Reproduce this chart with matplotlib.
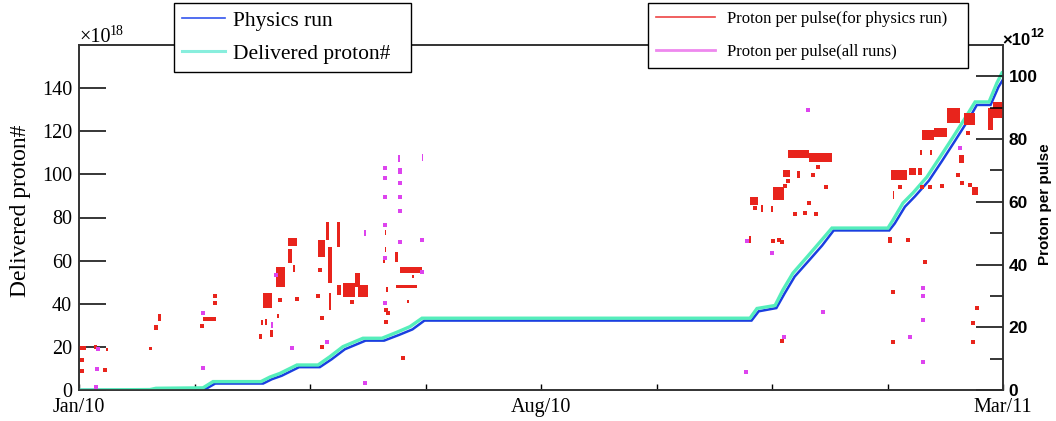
import matplotlib
matplotlib.use('Agg')
import matplotlib.pyplot as plt
from matplotlib.lines import Line2D
from datetime import date, timedelta
import numpy as np

# --- data (x = days since 2010-01-01) ---
START = date(2010, 1, 1)
SPAN_DAYS = 424

# delivered protons (x10^18)
deliv_day = [0, 32.6, 35.3, 56.9, 61.5, 83.5, 87.6, 92.2, 100, 109.7, 115.2, 121.1, 130.3,
             139, 145.9, 151.9, 157.4, 307.9, 311.1, 319.4, 323, 327.6, 334.1, 340, 345.5,
             371.2, 373.5, 378.1, 382.7, 389.1, 395.1, 401.1, 407.5, 411.2, 417.6, 421.2, 423.5]
deliv_val = [0, 0.2, 0.8, 1.0, 3.9, 3.9, 6.0, 7.7, 11.6, 11.6, 15.5, 20.1, 24.0,
             24.0, 26.8, 29.4, 33.3, 33.3, 37.8, 39.2, 46.4, 54.2, 61.7, 68.6, 75.1,
             75.1, 78.8, 86.7, 91.4, 98.8, 108, 117.3, 127.5, 133.6, 133.6, 142.4, 147]

# physics runs only (x10^18)
phys_day = [0, 32.6, 35.3, 58, 62.5, 84.5, 88.5, 93, 101, 110.5, 116, 122, 131.5,
            140, 147, 153, 158.5, 308.6, 311.9, 320, 323.8, 328.4, 335, 341, 346.3,
            371.8, 374.3, 379, 383.6, 390, 396, 402, 408.4, 412, 418.3, 421.9, 424]
phys_val = [0, 0, 0.3, 0.4, 3.0, 3.0, 5.0, 6.6, 10.6, 10.6, 14.3, 18.9, 22.9,
            22.9, 25.6, 28.1, 32.2, 32.2, 36.5, 38.0, 44.8, 52.6, 60.1, 67.0, 74.0,
            74.0, 77.2, 85.0, 89.8, 97.1, 106.2, 115.6, 125.8, 132.2, 132.2, 140.5, 144]

# proton per pulse, physics runs (x10^12): groups of runs (first day, last day, min, max)
red_d0 = [0, 6.9, 12.4, 32.1, 34.4, 36.3, 56.9, 82.8, 83.7, 85.4, 84.4, 87.8, 90.9, 90.6,
          95.9, 95.9, 98, 109.7, 113.3, 114.3, 114.7, 118.6, 118.2, 121.1, 126.6, 128,
          140.2, 140.2, 139.3, 140.9, 145.2, 147.3, 145.5, 150.7, 153,
          307.4, 307.9, 313, 317.5, 318.5, 323, 329.7, 325.3, 335,
          371.2, 373.3, 372.8, 380.9, 384.8, 387, 392.3, 386.1, 390.7, 398.1, 406.1,
          404, 410, 417.1, 419.4]
red_d1 = [3.2, 8.3, 13.3, 33.5, 36.3, 37.4, 62.9, 84.0, 84.5, 86.3, 88.6, 89.0, 92.0, 94.5,
          100, 97.7, 99.3, 112.9, 114.7, 116.1, 115.7, 119.8, 120, 126.6, 129, 132.6,
          140.9, 140.9, 140.4, 141.8, 146.4, 157.4, 155.1, 151.6, 153.7,
          308.4, 311.8, 314, 318.5, 323.3, 326.3, 330.9, 335, 345.5,
          373.1, 374, 380, 384.1, 386.8, 392.3, 398.3, 387, 391.6, 404.3, 411.2,
          405.9, 412.7, 419.4, 424]
red_lo = [12.8, 13.2, 12.3, 12.6, 19, 22, 21.9, 16.2, 20.6, 20.6, 26, 16.8, 22.8, 33,
          46, 40.5, 37.5, 42.5, 47.8, 34, 25.5, 45.7, 30.3, 29.8, 33, 29.8,
          49.4, 44.1, 40.5, 31.3, 40.9, 37.2, 32.4, 27.8, 35.8,
          47, 59, 56.8, 56.8, 60.6, 68, 67.5, 74, 72.8,
          46.8, 61, 67, 68.6, 68.6, 79.7, 80.8, 75, 75, 85, 84.5,
          72.3, 62.2, 82.9, 86.6]
red_hi = [14, 14.3, 13.5, 13.6, 20.6, 24.2, 23.4, 17.8, 22.3, 22.6, 30.8, 19.2, 24.2, 39.3,
          48.6, 44.8, 40, 47.8, 53.7, 45.7, 30.8, 53.7, 33.5, 34, 37.2, 33.5,
          51, 45.7, 42.3, 33, 44.1, 39.3, 33.5, 28.8, 36.6,
          49, 61.6, 59, 58.6, 64.8, 70.2, 69.8, 76.5, 75.5,
          48.9, 63.5, 70.2, 70.8, 70.8, 82.9, 83.4, 76.6, 76.6, 89.8, 88.2,
          75, 64.8, 89.9, 91.9]

# single physics runs
red_pt_day = [1.5, 1.2, 11.8, 56.3, 62.3, 62.3, 92.2, 99.9, 110.6, 109.7, 111.4, 111.4,
              125.1, 141.9, 140.9, 140.7, 148.5,
              322.4, 310.2, 328.6, 333.2, 338.2, 324, 325.3, 337, 339.3, 335.1, 342.8,
              318.5, 321.3, 322.8, 376.7, 380.5, 386.7, 390.5, 395.8, 388.2, 373.7,
              373.4, 408.1, 404.3, 403.5, 405, 408.9, 411.9, 410.1, 410.1]
red_pt_val = [9.6, 6.2, 6.4, 20.4, 30.0, 27.6, 28.7, 28.9, 38.3, 30, 22.9, 13.8,
              28.2, 24.5, 21.8, 25.5, 10.3,
              15.6, 58.1, 56.1, 56.4, 56.1, 65, 66.7, 68.6, 71, 59.7, 64.8,
              47.5, 47.8, 47.3, 64.8, 47.8, 64.8, 64.6, 65, 40.9, 31.3,
              15.4, 81.9, 77.2, 68.6, 65.9, 65.4, 26, 21.3, 15.4]

# proton per pulse, all runs (x10^12)
mag_d0 = [88.2, 130.9, 146.5, 157.3]
mag_d1 = [89.0, 131.5, 147.2, 158.0]
mag_lo = [19.7, 49, 72.8, 73]
mag_hi = [21.8, 51, 74.9, 75.3]

mag_pt_day = [8.9, 8.1, 8.0, 56.9, 56.9, 90.4, 97.6, 113.6, 131.2,
              140.4, 140.4, 140.4, 140.4, 140.4, 140.4,
              147.3, 147.3, 147.3, 147.3, 147.3, 147.3, 157.6, 157.6,
              306, 306.4, 317.8, 323.6, 341.2, 334.7, 381.3,
              387.4, 387.4, 387.4, 387.4, 404.3]
mag_pt_val = [13.1, 6.7, 1.1, 24.5, 6.9, 36.7, 13.3, 15.4, 2.1,
              70.7, 67.5, 61.6, 52.6, 42.1, 27.6,
              70.2, 65.9, 61.6, 57.2, 47.3, 69.6, 47.8, 37.7,
              5.8, 47.5, 43.8, 17, 25, 89.3, 17,
              32.4, 30, 22.3, 9, 77.3]

# --- style ---
SERIF = ['Liberation Serif', 'DejaVu Serif']
SANS = ['Liberation Sans', 'DejaVu Sans']
C_BLUE = '#1a3fe0'
C_CYAN = '#55eebb'
C_RED = '#e8241c'
C_MAG = '#dd44ee'

W, H = 1056, 421
fig = plt.figure(figsize=(W / 100, H / 100), dpi=100)
ax1 = fig.add_axes([79 / W, 31 / H, 924 / W, 345 / H])
ax2 = ax1.twinx()

# cumulative curves
ax1.plot(deliv_day, deliv_val, color=C_CYAN, lw=2.4, solid_joinstyle='miter', zorder=3)
ax1.plot(phys_day, phys_val, color=C_BLUE, lw=1.8, solid_joinstyle='miter', zorder=2)

# proton per pulse
heights = np.array(red_hi) - np.array(red_lo)
widths = np.array(red_d1) - np.array(red_d0)
ax2.bar(red_d0, heights, width=widths, bottom=red_lo, align='edge', color=C_RED, lw=0)
ax2.scatter(red_pt_day, red_pt_val, marker='s', s=5, color=C_RED, lw=0)
mh = np.array(mag_hi) - np.array(mag_lo)
mw = np.array(mag_d1) - np.array(mag_d0)
ax2.bar(mag_d0, mh, width=mw, bottom=mag_lo, align='edge', color=C_MAG, lw=0)
ax2.scatter(mag_pt_day, mag_pt_val, marker='s', s=6, color=C_MAG, lw=0)

# axes limits / ticks
ax1.set_xlim(0, SPAN_DAYS)
ax1.set_ylim(0, 160)
ax2.set_ylim(0, 110)

xt = np.linspace(0, SPAN_DAYS, 9)
labels = []
for i, d in enumerate(xt):
    if i in (0, 4, 8):
        labels.append((START + timedelta(days=float(d))).strftime('%b/%y'))
    else:
        labels.append('')
ax1.set_xticks(xt)
ax1.set_xticklabels(labels, family=SERIF, fontsize=14.5)
ax1.tick_params(axis='x', direction='in', length=4.5, width=1, pad=6, top=False)

ax1.set_yticks(np.arange(0, 141, 20))
ax1.set_yticklabels([str(v) for v in range(0, 141, 20)], family=SERIF, fontsize=14.5)
ax1.tick_params(axis='y', direction='in', length=19.5, width=1.1, pad=5)

ax2.set_yticks(np.arange(0, 101, 20))
ax2.set_yticks(np.arange(10, 100, 20), minor=True)
ax2.set_yticklabels([str(v) for v in range(0, 101, 20)], family=SANS,
                    fontsize=12.5, fontweight='bold')
ax2.tick_params(axis='y', which='major', direction='in', length=19.5, width=1.1, pad=4)
ax2.tick_params(axis='y', which='minor', direction='in', length=9.5, width=1.1)

for ax in (ax1, ax2):
    for s in ax.spines.values():
        s.set_linewidth(1.2)
        s.set_color('#333333')

ax1.set_ylabel('Delivered proton#', family=SERIF, fontsize=17)
ax1.yaxis.set_label_coords(-0.052, 0.52)
ax2.set_ylabel('Proton per pulse', family=SANS, fontsize=11, fontweight='bold')
ax2.yaxis.set_label_coords(1.038, 0.54)

# exponent labels
fig.text(79 / W, 1 - 42 / H, '×10', family=SERIF, fontsize=14.5, va='baseline')
fig.text(110 / W, 1 - 35 / H, '18', family=SERIF, fontsize=10, va='baseline')
fig.text(1002 / W, 1 - 45 / H, '×10', family=SANS, fontsize=12, fontweight='bold', va='baseline')
fig.text(1030 / W, 1 - 37 / H, '12', family=SANS, fontsize=9, fontweight='bold', va='baseline')

# legends
h1 = [Line2D([], [], color='#3355ee', lw=1.2), Line2D([], [], color='#88eedd', lw=2.2)]
leg1 = fig.legend(h1, ['Physics run', 'Delivered proton#'], loc='upper left',
                  bbox_to_anchor=(174 / W, 1 - 68 / H, 237 / W, 65 / H),
                  bbox_transform=fig.transFigure, mode='expand',
                  borderaxespad=0, fancybox=False, framealpha=1, edgecolor='black',
                  prop={'family': SERIF, 'size': 15.5}, handlelength=2.0,
                  handletextpad=0.4, borderpad=0.35, labelspacing=0.62)
leg1.get_frame().set_linewidth(1.0)

h2 = [Line2D([], [], color='#ee4444', lw=1.2), Line2D([], [], color='#ee88ee', lw=2.0)]
leg2 = fig.legend(h2, ['Proton per pulse(for physics run)', 'Proton per pulse(all runs)'],
                  loc='upper left', bbox_to_anchor=(648 / W, 1 - 68 / H, 320 / W, 65 / H),
                  bbox_transform=fig.transFigure, mode='expand', borderaxespad=0,
                  fancybox=False, framealpha=1, edgecolor='black',
                  prop={'family': SERIF, 'size': 12}, handlelength=3.5, handletextpad=0.75,
                  borderpad=0.5, labelspacing=1.0)
leg2.get_frame().set_linewidth(1.0)

plt.savefig('out.png', dpi=100)
